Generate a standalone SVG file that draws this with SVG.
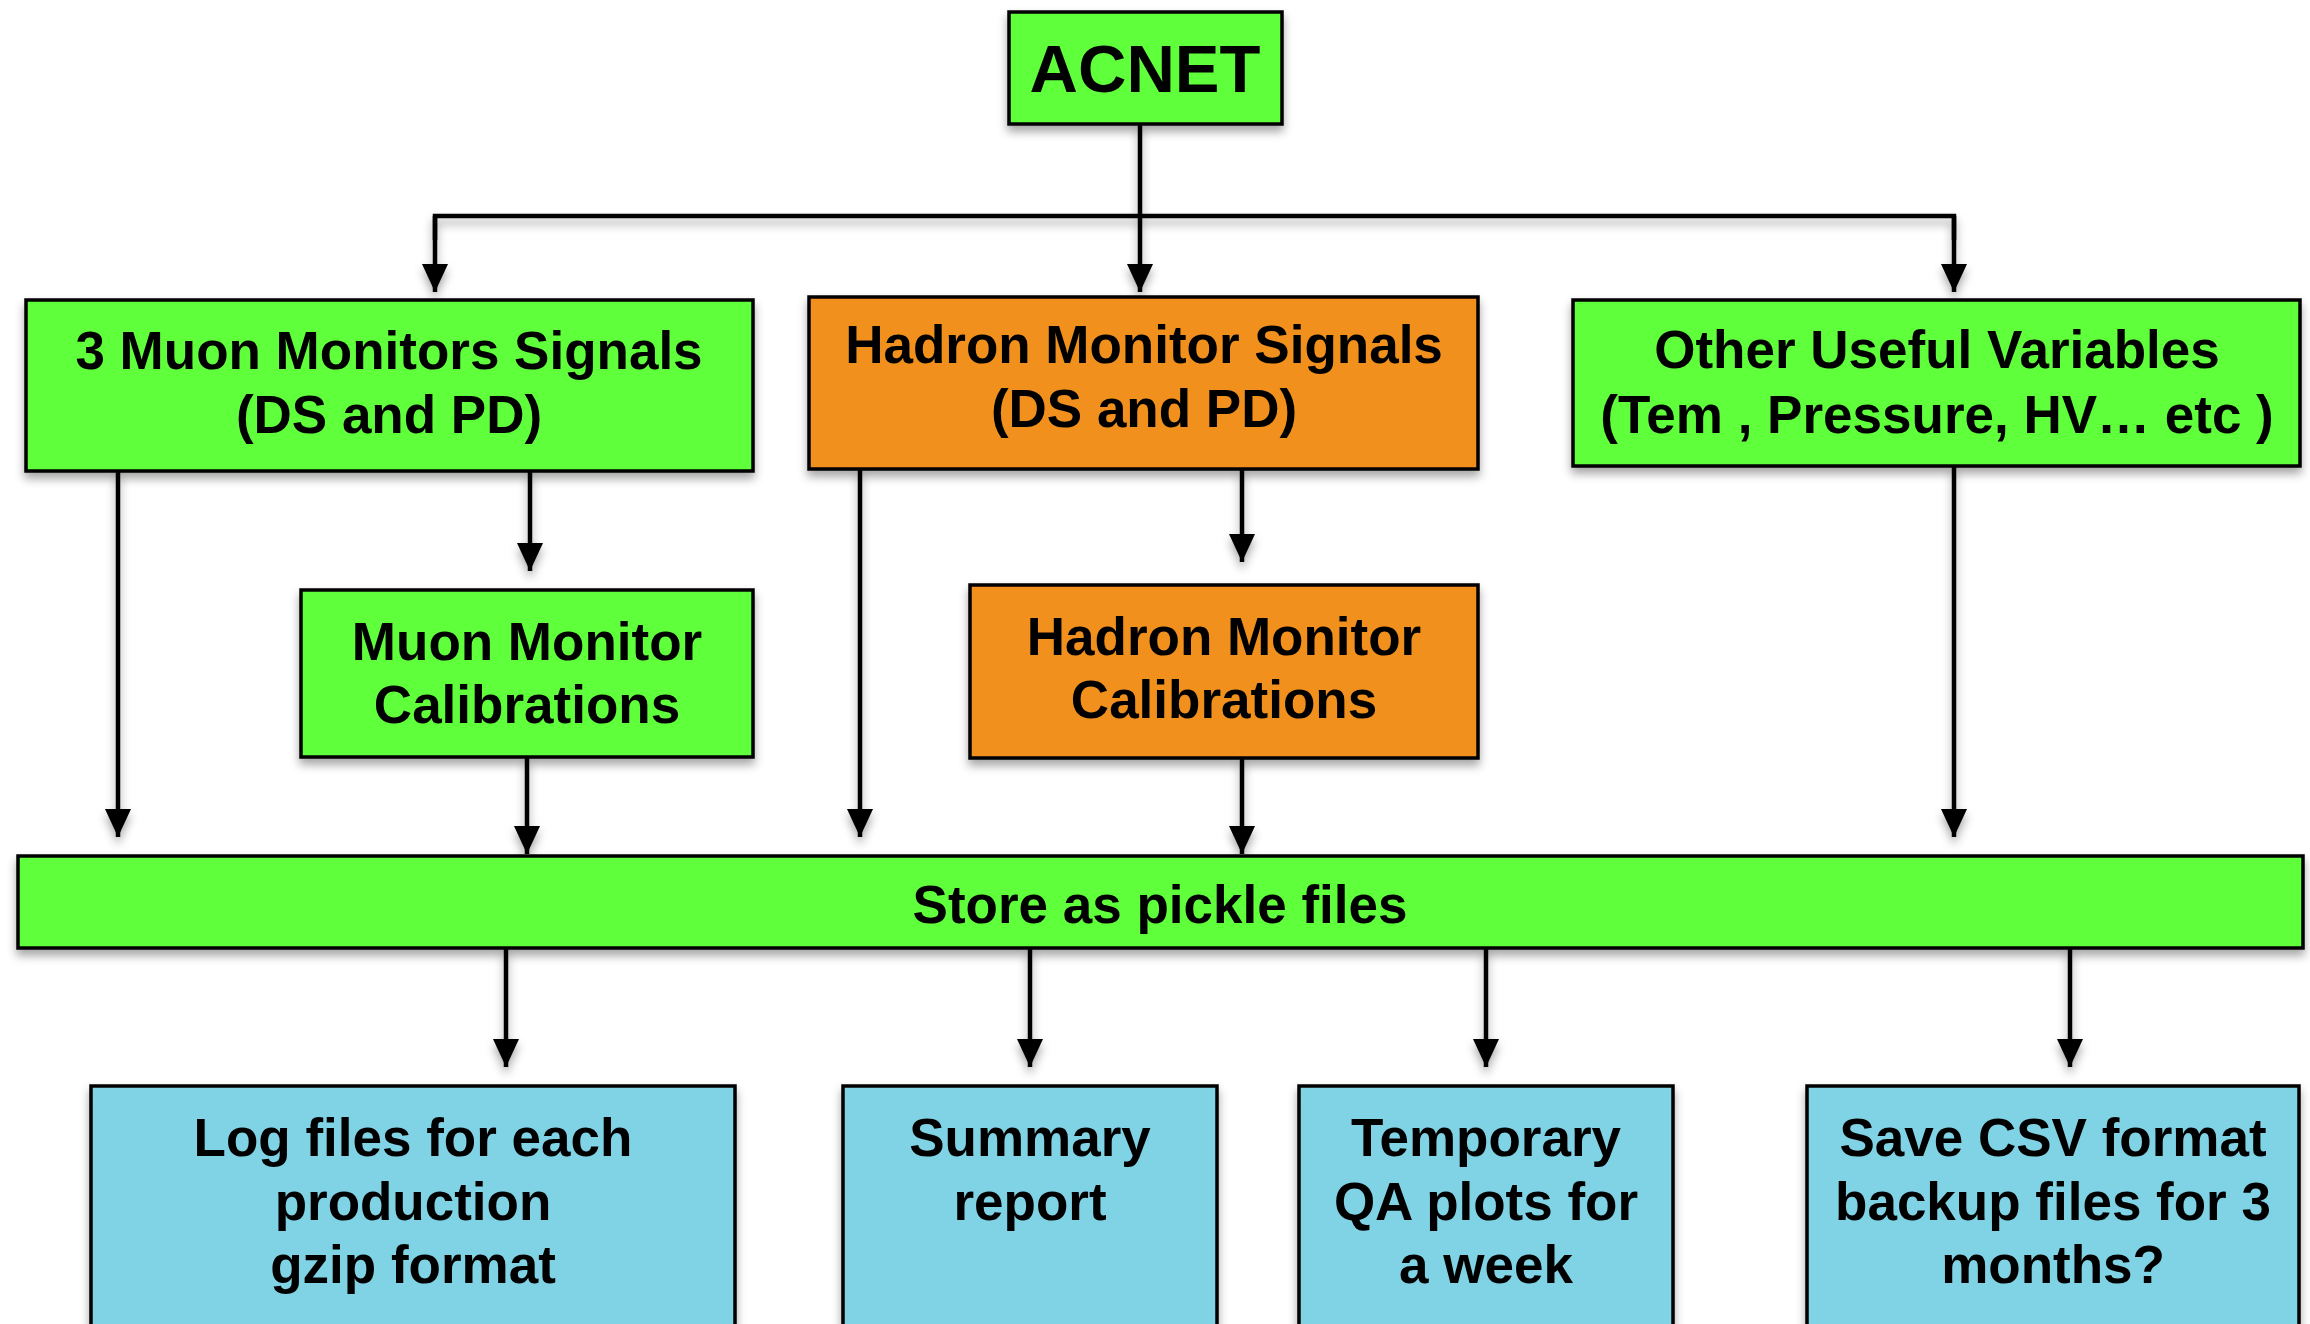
<svg xmlns="http://www.w3.org/2000/svg" width="2310" height="1324" viewBox="0 0 2310 1324">
<style>
.box{stroke:#000;stroke-width:3.5}
.g{fill:#61FF3B}
.o{fill:#F1901C}
.b{fill:#80D3E5}
.t{font-family:"Liberation Sans",Arial,Helvetica,sans-serif;font-weight:bold;font-size:53px;fill:#000;text-anchor:middle}
.big{font-size:67px}
.c{fill:none;stroke:#000;stroke-width:4.5}
</style>
<defs>
<filter id="sh" x="-10%" y="-10%" width="120%" height="130%">
<feDropShadow dx="0" dy="6" stdDeviation="5" flood-color="#000" flood-opacity="0.35"/>
</filter>
<marker id="arrd" markerUnits="userSpaceOnUse" markerWidth="28" markerHeight="26" refX="28" refY="13" orient="auto" viewBox="0 0 28 26">
<path d="M0,0 L28,13 L0,26 Z" fill="#000"/>
</marker>
</defs>
<rect width="2310" height="1324" fill="#fff"/>
<g id="connectors" filter="url(#sh)">
<path class="c" d="M1140,124 V292" marker-end="url(#arrd)"/>
<path class="c" d="M435,240 V216 H1954 V240"/>
<path class="c" d="M435,216 V292" marker-end="url(#arrd)"/>
<path class="c" d="M1954,216 V292" marker-end="url(#arrd)"/>
<path class="c" d="M118,471 V837" marker-end="url(#arrd)"/>
<path class="c" d="M530,471 V571" marker-end="url(#arrd)"/>
<path class="c" d="M527,757 V854" marker-end="url(#arrd)"/>
<path class="c" d="M860,469 V837" marker-end="url(#arrd)"/>
<path class="c" d="M1242,469 V562" marker-end="url(#arrd)"/>
<path class="c" d="M1242,758 V854" marker-end="url(#arrd)"/>
<path class="c" d="M1954,466 V837" marker-end="url(#arrd)"/>
<path class="c" d="M506,948 V1067" marker-end="url(#arrd)"/>
<path class="c" d="M1030,948 V1067" marker-end="url(#arrd)"/>
<path class="c" d="M1486,948 V1067" marker-end="url(#arrd)"/>
<path class="c" d="M2070,948 V1067" marker-end="url(#arrd)"/>
</g>
<g id="acnet">
<rect class="box g" x="1009" y="12" width="273" height="112" filter="url(#sh)"/>
<text class="t big" x="1145" y="92">ACNET</text>
</g>
<g id="muon-signals">
<rect class="box g" x="26" y="300" width="727" height="171" filter="url(#sh)"/>
<text class="t" x="389" y="369">3 Muon Monitors Signals</text>
<text class="t" x="389" y="433">(DS and PD)</text>
</g>
<g id="hadron-signals">
<rect class="box o" x="809" y="297" width="669" height="172" filter="url(#sh)"/>
<text class="t" x="1144" y="363">Hadron Monitor Signals</text>
<text class="t" x="1144" y="427">(DS and PD)</text>
</g>
<g id="other-variables">
<rect class="box g" x="1573" y="300" width="727" height="166" filter="url(#sh)"/>
<text class="t" x="1937" y="368">Other Useful Variables</text>
<text class="t" x="1937" y="433">(Tem , Pressure, HV… etc )</text>
</g>
<g id="muon-calibrations">
<rect class="box g" x="301" y="590" width="452" height="167" filter="url(#sh)"/>
<text class="t" x="527" y="660">Muon Monitor</text>
<text class="t" x="527" y="723">Calibrations</text>
</g>
<g id="hadron-calibrations">
<rect class="box o" x="970" y="585" width="508" height="173" filter="url(#sh)"/>
<text class="t" x="1224" y="655">Hadron Monitor</text>
<text class="t" x="1224" y="718">Calibrations</text>
</g>
<g id="store-pickle">
<rect class="box g" x="18" y="856" width="2285" height="92" filter="url(#sh)"/>
<text class="t" x="1160" y="923">Store as pickle files</text>
</g>
<g id="log-files">
<rect class="box b" x="91" y="1086" width="644" height="260" filter="url(#sh)"/>
<text class="t" x="413" y="1156">Log files for each</text>
<text class="t" x="413" y="1220">production</text>
<text class="t" x="413" y="1283">gzip format</text>
</g>
<g id="summary-report">
<rect class="box b" x="843" y="1086" width="374" height="260" filter="url(#sh)"/>
<text class="t" x="1030" y="1156">Summary</text>
<text class="t" x="1030" y="1220">report</text>
</g>
<g id="qa-plots">
<rect class="box b" x="1299" y="1086" width="374" height="260" filter="url(#sh)"/>
<text class="t" x="1486" y="1156">Temporary</text>
<text class="t" x="1486" y="1220">QA plots for</text>
<text class="t" x="1486" y="1283">a week</text>
</g>
<g id="csv-backup">
<rect class="box b" x="1807" y="1086" width="492" height="260" filter="url(#sh)"/>
<text class="t" x="2053" y="1156">Save CSV format</text>
<text class="t" x="2053" y="1220">backup files for 3</text>
<text class="t" x="2053" y="1283">months?</text>
</g>
</svg>
